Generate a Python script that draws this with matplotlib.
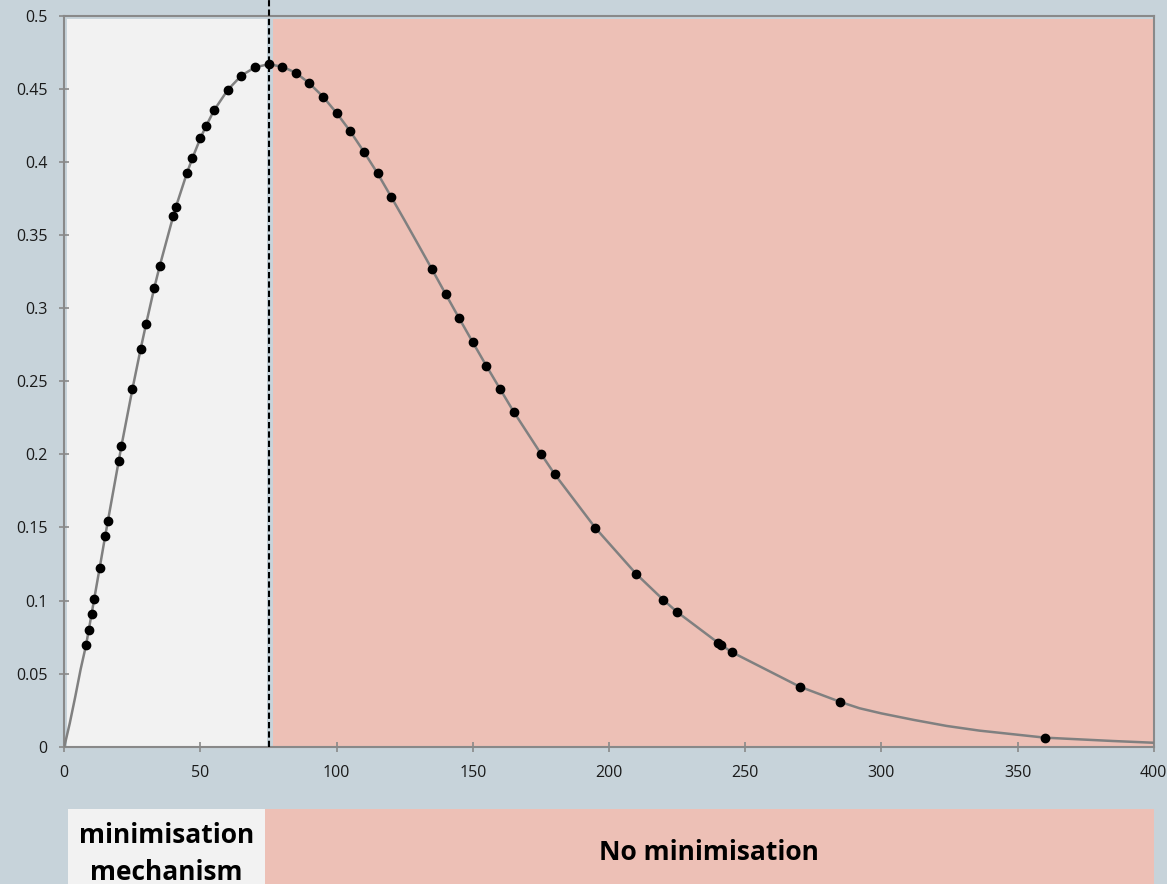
import numpy as np
import matplotlib
matplotlib.use('Agg')
import matplotlib.pyplot as plt
from matplotlib.patches import Rectangle
from matplotlib.transforms import blended_transform_factory

plt.rcParams['font.family'] = ['Open Sans', 'DejaVu Sans']

# measured points (black dots)
dot_x = [8, 9, 10, 11, 13, 15, 16, 20, 21, 25, 28, 30, 33, 35, 40, 41, 45, 47, 50, 52,
         55, 60, 65, 70, 75, 80, 85, 90, 95, 100, 105, 110, 115, 120, 135, 140, 145, 150,
         155, 160, 165, 175, 180, 195, 210, 220, 225, 240, 241, 245, 270, 285, 360]
dot_y = [0.0696, 0.0801, 0.0906, 0.1013, 0.1225, 0.1440, 0.1544, 0.1957, 0.2060, 0.2446,
         0.2719, 0.2890, 0.3137, 0.3287, 0.3631, 0.3695, 0.3924, 0.4026, 0.4165, 0.4245,
         0.4355, 0.4494, 0.4592, 0.4649, 0.4670, 0.4653, 0.4612, 0.4539, 0.4448, 0.4336,
         0.4211, 0.4071, 0.3924, 0.3763, 0.3267, 0.3098, 0.2931, 0.2767, 0.2605, 0.2448,
         0.2292, 0.2005, 0.1866, 0.1497, 0.1182, 0.1004, 0.0922, 0.0712, 0.0698, 0.0648,
         0.0411, 0.0306, 0.0062]

# fitted curve (grey line)
line_x = [0, 2, 4, 6, 8, 9, 10, 11, 13, 15, 16, 20, 21, 25, 28, 30, 33, 35, 40, 41, 45,
          47, 50, 52, 55, 60, 65, 70, 75, 80, 85, 90, 95, 100, 105, 110, 115, 120, 125,
          130, 135, 140, 145, 150, 155, 160, 165, 175, 180, 195, 210, 220, 225, 240, 245,
          270, 285, 292, 300, 312, 324, 336, 350, 360, 373, 385, 400]
line_y = [0.0, 0.016, 0.034, 0.053, 0.0696, 0.0801, 0.0906, 0.1013, 0.1225, 0.1440,
          0.1544, 0.1957, 0.2060, 0.2446, 0.2719, 0.2890, 0.3137, 0.3287, 0.3631, 0.3695,
          0.3924, 0.4026, 0.4165, 0.4245, 0.4355, 0.4494, 0.4592, 0.4649, 0.4670, 0.4653,
          0.4612, 0.4539, 0.4448, 0.4336, 0.4211, 0.4071, 0.3924, 0.3763, 0.3600, 0.3434,
          0.3267, 0.3098, 0.2931, 0.2767, 0.2605, 0.2448, 0.2292, 0.2005, 0.1866, 0.1497,
          0.1182, 0.1004, 0.0922, 0.0712, 0.0648, 0.0411, 0.0306, 0.0263, 0.0228, 0.0183,
          0.0142, 0.0110, 0.0082, 0.0062, 0.0050, 0.0039, 0.0027]

threshold = 75
x_ticks = [0, 50, 100, 150, 200, 250, 300, 350, 400]
y_ticks = [0, 0.05, 0.1, 0.15, 0.2, 0.25, 0.3, 0.35, 0.4, 0.45, 0.5]
y_labels = ['0', '0.05', '0.1', '0.15', '0.2', '0.25', '0.3', '0.35', '0.4', '0.45', '0.5']
zone_labels = ['minimisation\nmechanism', 'No minimisation']

bg = '#c7d3da'
grey_zone = '#f2f2f2'
pink_zone = '#edc0b6'
axis_col = '#898989'

W, H = 1167, 884
fig = plt.figure(figsize=(W / 100, H / 100), dpi=100, facecolor=bg)
ax = fig.add_axes([64.3 / W, 137.3 / H, (1153.7 - 64.3) / W, 730.7 / H])
ax.set_facecolor(bg)
ax.set_xlim(0, 400)
ax.set_ylim(0, 0.5)

# shaded zones
ax.fill_between([1.0, 74.3], 0, 0.498, color=grey_zone, lw=0, zorder=1)
ax.fill_between([76.7, 400], 0, 0.498, color=pink_zone, lw=0, zorder=1)

ax.plot(line_x, line_y, color='#808080', lw=1.8, zorder=3)
ax.plot(dot_x, dot_y, 'o', color='black', ms=6, zorder=4)

ax.plot([threshold, threshold], [0, 0.512], color='black', lw=1.5, dashes=(3, 1.5),
        clip_on=False, zorder=5)

for s in ax.spines.values():
    s.set_color(axis_col)
    s.set_linewidth(1.5)
    s.set_zorder(2)

ax.set_xticks(x_ticks)
ax.set_yticks(y_ticks)
ax.set_yticklabels(y_labels)
ax.tick_params(axis='both', direction='inout', length=7, width=1.2, color=axis_col,
               labelsize=11.5, labelcolor='#1a1a1a')
ax.tick_params(axis='x', pad=9.5)
ax.tick_params(axis='y', pad=8.5)

# zone boxes under the chart
trans = blended_transform_factory(ax.transData, fig.transFigure)
box_top = (H - 809) / H
fig.add_artist(Rectangle((1.4, 0), 73.7 - 1.4, box_top, transform=trans,
                         facecolor=grey_zone, lw=0))
fig.add_artist(Rectangle((73.7, 0), 400 - 73.7, box_top, transform=trans,
                         facecolor=pink_zone, lw=0))
fig.text((1.4 + 73.7) / 2, (H - 854) / H, zone_labels[0], transform=trans, ha='center',
         va='center', fontsize=19, fontweight='bold', linespacing=1.45)
fig.text((73.7 + 400) / 2, (H - 852) / H, zone_labels[1], transform=trans, ha='center',
         va='center', fontsize=19, fontweight='bold')

fig.savefig('out.png', dpi=100, facecolor=bg)
